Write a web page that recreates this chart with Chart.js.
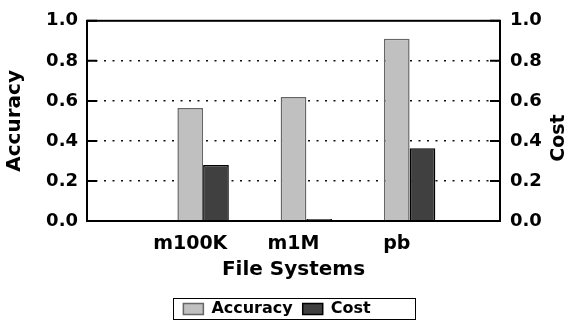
<!DOCTYPE html>
<html>
<head>
<meta charset="utf-8">
<script src="https://cdn.jsdelivr.net/npm/chart.js@4.4.0/dist/chart.umd.min.js"></script>
<style>
  html, body { margin: 0; padding: 0; background: #fff; }
  #bar-chart { display: block; }
</style>
</head>
<body>
<canvas id="bar-chart" width="568" height="320"></canvas>
<script>
// data (first and last slots are empty padding categories)
var categories = ['', 'm100K', 'm1M', 'pb', '']
var accuracy = [null, 0.565, 0.62, 0.91, null]
var cost = [null, 0.28, 0.01, 0.363, null]
var spacer = [null, null, null, null, null]
var yTicks = [0, 0.2, 0.4, 0.6, 0.8, 1.0]

var FONT = 'DejaVu Sans'
Chart.defaults.color = '#000'
Chart.defaults.font.family = FONT

// plot frame, inner ticks, right axis title and legend box
var frame = {
  id: 'frame',
  afterLayout: function(chart) {
    chart.legend.top += 7
    chart.legend.bottom += 7
    chart.legend.left -= 7
    chart.legend.right -= 7
  },
  afterDraw: function(chart) {
    var ctx = chart.ctx
    var a = chart.chartArea
    var y = chart.scales.y
    ctx.save()
    ctx.strokeStyle = '#000'
    ctx.lineWidth = 2
    yTicks.forEach(function(v) {
      var py = y.getPixelForValue(v)
      ctx.beginPath()
      ctx.moveTo(a.left, py); ctx.lineTo(a.left + 10, py)
      ctx.moveTo(a.right, py); ctx.lineTo(a.right - 10, py)
      ctx.stroke()
    })
    ctx.strokeRect(a.left, a.top, a.right - a.left, a.bottom - a.top)

    ctx.translate(559, 138)
    ctx.rotate(-Math.PI / 2)
    ctx.font = 'bold 19px ' + FONT
    ctx.textAlign = 'center'
    ctx.textBaseline = 'middle'
    ctx.fillText('Cost', 0, 0)
    ctx.restore()

    var lg = chart.legend
    var hb = lg.legendHitBoxes
    if (hb && hb.length) {
      var mid = lg.top + 10 + 8
      var x0 = hb[0].left - 10
      var x1 = hb[hb.length - 1].left + hb[hb.length - 1].width + 45
      ctx.save()
      ctx.strokeStyle = '#000'
      ctx.lineWidth = 1
      ctx.strokeRect(Math.round(x0) + 0.5, Math.round(mid - 11) + 0.5, Math.round(x1 - x0), 21)
      ctx.restore()
    }
  }
}

new Chart(document.getElementById('bar-chart'), {
  type: 'bar',
  data: {
    labels: categories,
    datasets: [{
      label: 'spacer',
      data: spacer
    }, {
      label: 'Accuracy',
      data: accuracy,
      backgroundColor: '#c0c0c0',
      borderColor: '#666',
      borderWidth: 1.5
    }, {
      label: 'Cost',
      data: cost,
      backgroundColor: '#404040',
      borderColor: '#000',
      borderWidth: 1.5
    }]
  },
  options: {
    responsive: false,
    animation: false,
    devicePixelRatio: 1,
    categoryPercentage: 0.747,
    barPercentage: 1,
    layout: { padding: { top: 19, left: 0, right: 0, bottom: 0 } },
    plugins: {
      tooltip: { enabled: false },
      legend: {
        position: 'bottom',
        labels: {
          font: { size: 16, weight: 'bold' },
          boxWidth: 20,
          boxHeight: 11,
          padding: 10,
          filter: function(item) { return item.datasetIndex !== 0 }
        }
      }
    },
    scales: {
      x: {
        type: 'category',
        offset: false,
        grid: { display: false, drawTicks: false, offset: false },
        border: { display: false },
        ticks: {
          font: { size: 19, weight: 'bold' },
          padding: 12,
          autoSkip: false,
          maxRotation: 0
        },
        title: {
          display: true,
          text: 'File Systems',
          font: { size: 20, weight: 'bold' },
          padding: { top: 0, bottom: 2 }
        },
        afterFit: function(s) { s.height = 63 }
      },
      y: {
        position: 'left',
        min: 0,
        max: 1,
        afterBuildTicks: function(s) { s.ticks = yTicks.map(function(v) { return { value: v } }) },
        grid: {
          drawTicks: false,
          lineWidth: 1.5,
          color: function(c) {
            return (c.tick && (c.tick.value === 0 || c.tick.value === 1)) ? 'rgba(0,0,0,0)' : '#111'
          }
        },
        border: { display: false, dash: [2, 6.5] },
        ticks: {
          font: { size: 18, weight: 'bold' },
          padding: 9,
          callback: function(v) { return Number(v).toFixed(1) }
        },
        title: {
          display: true,
          text: 'Accuracy',
          font: { size: 20, weight: 'bold' },
          padding: { top: 3, bottom: 0 }
        },
        afterFit: function(s) { s.width = 87 }
      },
      y1: {
        position: 'right',
        min: 0,
        max: 1,
        afterBuildTicks: function(s) { s.ticks = yTicks.map(function(v) { return { value: v } }) },
        grid: { display: false, drawTicks: false },
        border: { display: false },
        ticks: {
          font: { size: 18, weight: 'bold' },
          padding: 10,
          callback: function(v) { return Number(v).toFixed(1) }
        },
        afterFit: function(s) { s.width = 68 }
      }
    }
  },
  plugins: [frame]
})
</script>
</body>
</html>
